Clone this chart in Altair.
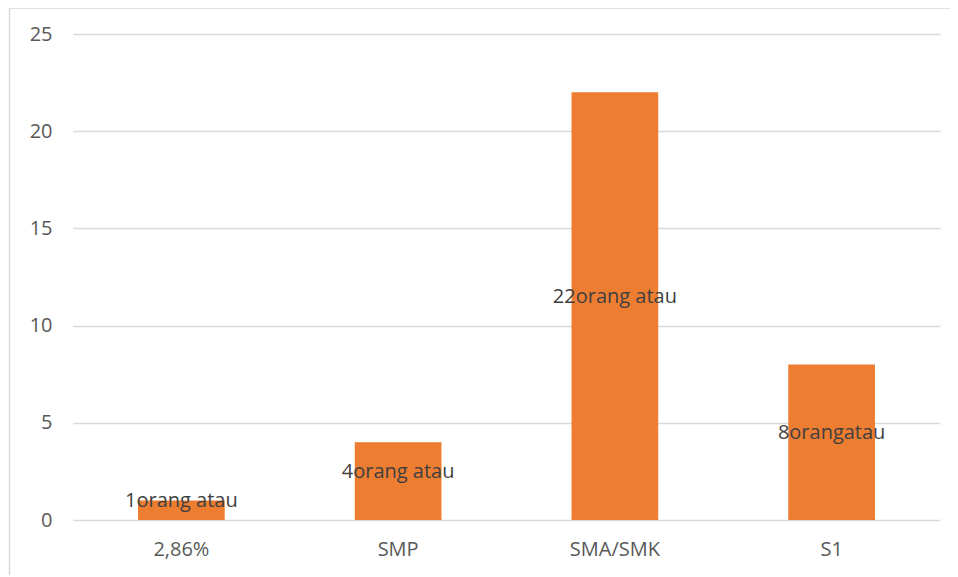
import altair as alt
import pandas as pd

categories = ["2,86%", "SMP", "SMA/SMK", "S1"]
values = [1, 4, 22, 8]
labels = ["1orang atau", "4orang atau", "22orang atau", "8orangatau"]

df = pd.DataFrame({"cat": categories, "val": values, "lab": labels})
df["mid"] = df["val"] / 2

FONT = "Open Sans"

x = alt.X("cat:N", sort=categories, title=None,
          scale=alt.Scale(paddingInner=0.6, paddingOuter=0.3),
          axis=alt.Axis(labelAngle=0, domain=False, ticks=False, labelPadding=19,
                        labelFontSize=20, labelColor="#595959", labelFont=FONT))
y_axis = alt.Axis(values=[0, 5, 10, 15, 20, 25], domain=False, ticks=False,
                  labelPadding=21, labelFontSize=20, labelColor="#595959",
                  labelFont=FONT, gridColor="#d9d9d9", gridWidth=1.5)

bars = alt.Chart(df).mark_bar(color="#ED7D31").encode(
    x=x,
    y=alt.Y("val:Q", title=None, scale=alt.Scale(domain=[0, 25], nice=False), axis=y_axis),
)

text = alt.Chart(df).mark_text(font=FONT, fontSize=20, color="#404040",
                               baseline="alphabetic", dy=-3).encode(
    x=alt.X("cat:N", sort=categories),
    y=alt.Y("mid:Q"),
    text="lab:N",
)

frame_data = alt.Data(values=[{"a": 1}])
left_line = alt.Chart(frame_data).mark_rule(color="#d9d9d9", strokeWidth=1.5).encode(
    x=alt.value(-63.5), y=alt.value(-26), y2=alt.value(600))
top_line = alt.Chart(frame_data).mark_rule(color="#d9d9d9", strokeWidth=1.5).encode(
    x=alt.value(-63.5), x2=alt.value(900), y=alt.value(-26))

chart = alt.layer(bars, text, left_line, top_line).properties(
    width=867, height=486,
    autosize=alt.AutoSizeParams(type="none"),
    padding={"left": 65, "top": 26, "right": 10, "bottom": 55},
).configure_view(stroke=None)

chart.save("out.html", embed_options={"renderer": "svg", "actions": False})
